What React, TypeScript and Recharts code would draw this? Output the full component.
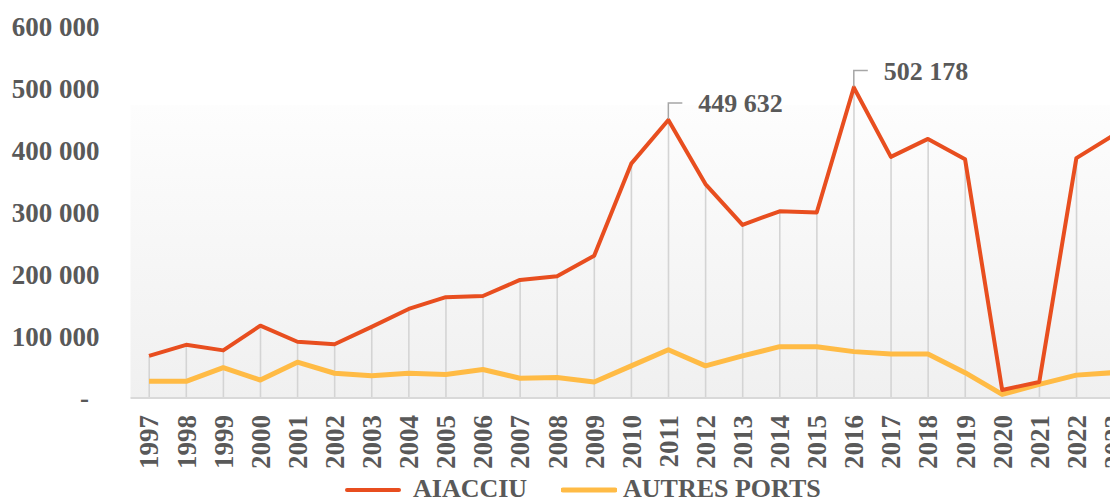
import React from "react";
import { ComposedChart, Line, Bar, XAxis, YAxis, CartesianGrid, Legend, LabelList } from "recharts";

const years = ["1997","1998","1999","2000","2001","2002","2003","2004","2005","2006","2007","2008","2009","2010","2011","2012","2013","2014","2015","2016","2017","2018","2019","2020","2021","2022","2023"];
const aiacciu = [68000, 86000, 77000, 117000, 91000, 87000, 115000, 144000, 163000, 165000, 191000, 197000, 230000, 379000, 449632, 346000, 280000, 302000, 300000, 502178, 390000, 419000, 386000, 13000, 26000, 388000, 425000];
const autres = [27000, 27000, 49000, 29000, 58000, 40000, 36000, 40000, 38000, 46000, 32000, 33000, 26000, 52000, 78000, 52000, 68000, 83000, 83000, 75000, 71000, 71000, 41000, 6000, 22000, 37000, 41000];
const yTicks = [0, 100000, 200000, 300000, 400000, 500000, 600000];
const annotated = ["2011", "2016"];
const seriesNames = ["AIACCIU", "AUTRES PORTS"];

const RED = "#E84E1F";
const YELLOW = "#FFBB45";
const TEXT = "#595959";
const FONT = "'Liberation Serif', 'Times New Roman', serif";

const data = years.map((y, i) => ({
  year: y,
  aiacciu: aiacciu[i],
  autres: autres[i],
  drop: Math.max(aiacciu[i], autres[i]),
}));

const fmt = (v: number) => {
  if (v === 0) return "-";
  const s = String(Math.round(v));
  return s.replace(/\B(?=(\d{3})+(?!\d))/g, " ");
};

const YTick = (props: any) => {
  const { x, y, payload } = props;
  const v = payload.value;
  return (
    <text
      x={v === 0 ? x - 46 : x - 31}
      y={y}
      dy="0.35em"
      textAnchor={v === 0 ? "middle" : "end"}
      fill={TEXT}
      fontFamily={FONT}
      fontWeight="bold"
      fontSize={27}
    >
      {fmt(v)}
    </text>
  );
};

const XTick = (props: any) => {
  const { x, y, payload } = props;
  return (
    <g transform={`translate(${x},${y})`}>
      <text
        transform="rotate(-90)"
        x={-17}
        y={0}
        dy="0.35em"
        textAnchor="end"
        fill={TEXT}
        fontFamily={FONT}
        fontWeight="bold"
        fontSize={27}
      >
        {payload.value}
      </text>
    </g>
  );
};

const DropLine = (props: any) => {
  const { x, y, width, height } = props;
  if (height == null || isNaN(height)) return null;
  const cx = x + width / 2;
  return <line x1={cx} x2={cx} y1={y} y2={y + height} stroke="#d4d4d4" strokeWidth={1.6} />;
};

const PeakLabel = (props: any) => {
  const { x, y, value, index } = props;
  if (!annotated.includes(years[index])) return null;
  const top = y - 17;
  return (
    <g>
      <polyline
        points={`${x},${y - 1} ${x},${top} ${x + 14},${top}`}
        fill="none"
        stroke="#a6a6a6"
        strokeWidth={1.5}
      />
      <text
        x={x + 30}
        y={top}
        dy="0.35em"
        fill={TEXT}
        fontFamily={FONT}
        fontWeight="bold"
        fontSize={26}
      >
        {fmt(value)}
      </text>
    </g>
  );
};

const LegendContent = () => {
  const textStyle: React.CSSProperties = {
    position: "absolute",
    top: 6,
    fontFamily: FONT,
    fontWeight: "bold",
    fontSize: 26,
    lineHeight: "26px",
    color: TEXT,
    whiteSpace: "nowrap",
  };
  return (
    <div style={{ position: "relative", width: 600, height: 32 }}>
      <svg style={{ position: "absolute", left: 0, top: 14 }} width={56} height={12}>
        <line x1={2} x2={54} y1={6} y2={6} stroke={RED} strokeWidth={4} strokeLinecap="round" />
      </svg>
      <div style={{ ...textStyle, left: 68 }}>{seriesNames[0]}</div>
      <svg style={{ position: "absolute", left: 216, top: 14 }} width={56} height={12}>
        <line x1={2} x2={54} y1={6} y2={6} stroke={YELLOW} strokeWidth={5} strokeLinecap="round" />
      </svg>
      <div style={{ ...textStyle, left: 278 }}>{seriesNames[1]}</div>
    </div>
  );
};

export default function App() {
  return (
    <div style={{ width: 1110, height: 491, overflow: "hidden", position: "relative" }}>
      <ComposedChart
        width={1124}
        height={491}
        data={data}
        margin={{ top: 19, right: 0, bottom: 0, left: 0 }}
      >
        <defs>
          <linearGradient id="plotBg" x1="0" y1="0" x2="0" y2="1">
            <stop offset="0" stopColor="#ffffff" />
            <stop offset="0.21" stopColor="#ffffff" />
            <stop offset="0.212" stopColor="#fdfdfd" />
            <stop offset="1" stopColor="#f0f0f0" />
          </linearGradient>
        </defs>
        <CartesianGrid horizontal={false} vertical={false} fill="url(#plotBg)" stroke="none" />
        <XAxis
          dataKey="year"
          interval={0}
          height={101}
          tickLine={false}
          tickSize={0}
          tickMargin={0}
          axisLine={{ stroke: "#d9d9d9", strokeWidth: 2 }}
          tick={<XTick />}
        />
        <YAxis
          width={122.5}
          domain={[0, 600000]}
          ticks={yTicks}
          axisLine={false}
          tickLine={false}
          tickSize={0}
          tickMargin={0}
          tick={<YTick />}
        />
        <Legend
          layout="horizontal"
          verticalAlign="middle"
          align="center"
          wrapperStyle={{ left: 337, top: 462, width: 600, height: 32 }}
          content={<LegendContent />}
        />
        <Bar dataKey="drop" isAnimationActive={false} shape={<DropLine />} legendType="none" />
        <Line
          type="linear"
          dataKey="autres"
          name={seriesNames[1]}
          stroke={YELLOW}
          strokeWidth={5}
          dot={false}
          activeDot={false}
          strokeLinejoin="round"
          isAnimationActive={false}
        />
        <Line
          type="linear"
          dataKey="aiacciu"
          name={seriesNames[0]}
          stroke={RED}
          strokeWidth={4}
          dot={false}
          activeDot={false}
          strokeLinejoin="round"
          isAnimationActive={false}
        >
          <LabelList dataKey="aiacciu" content={<PeakLabel />} />
        </Line>
      </ComposedChart>
    </div>
  );
}
